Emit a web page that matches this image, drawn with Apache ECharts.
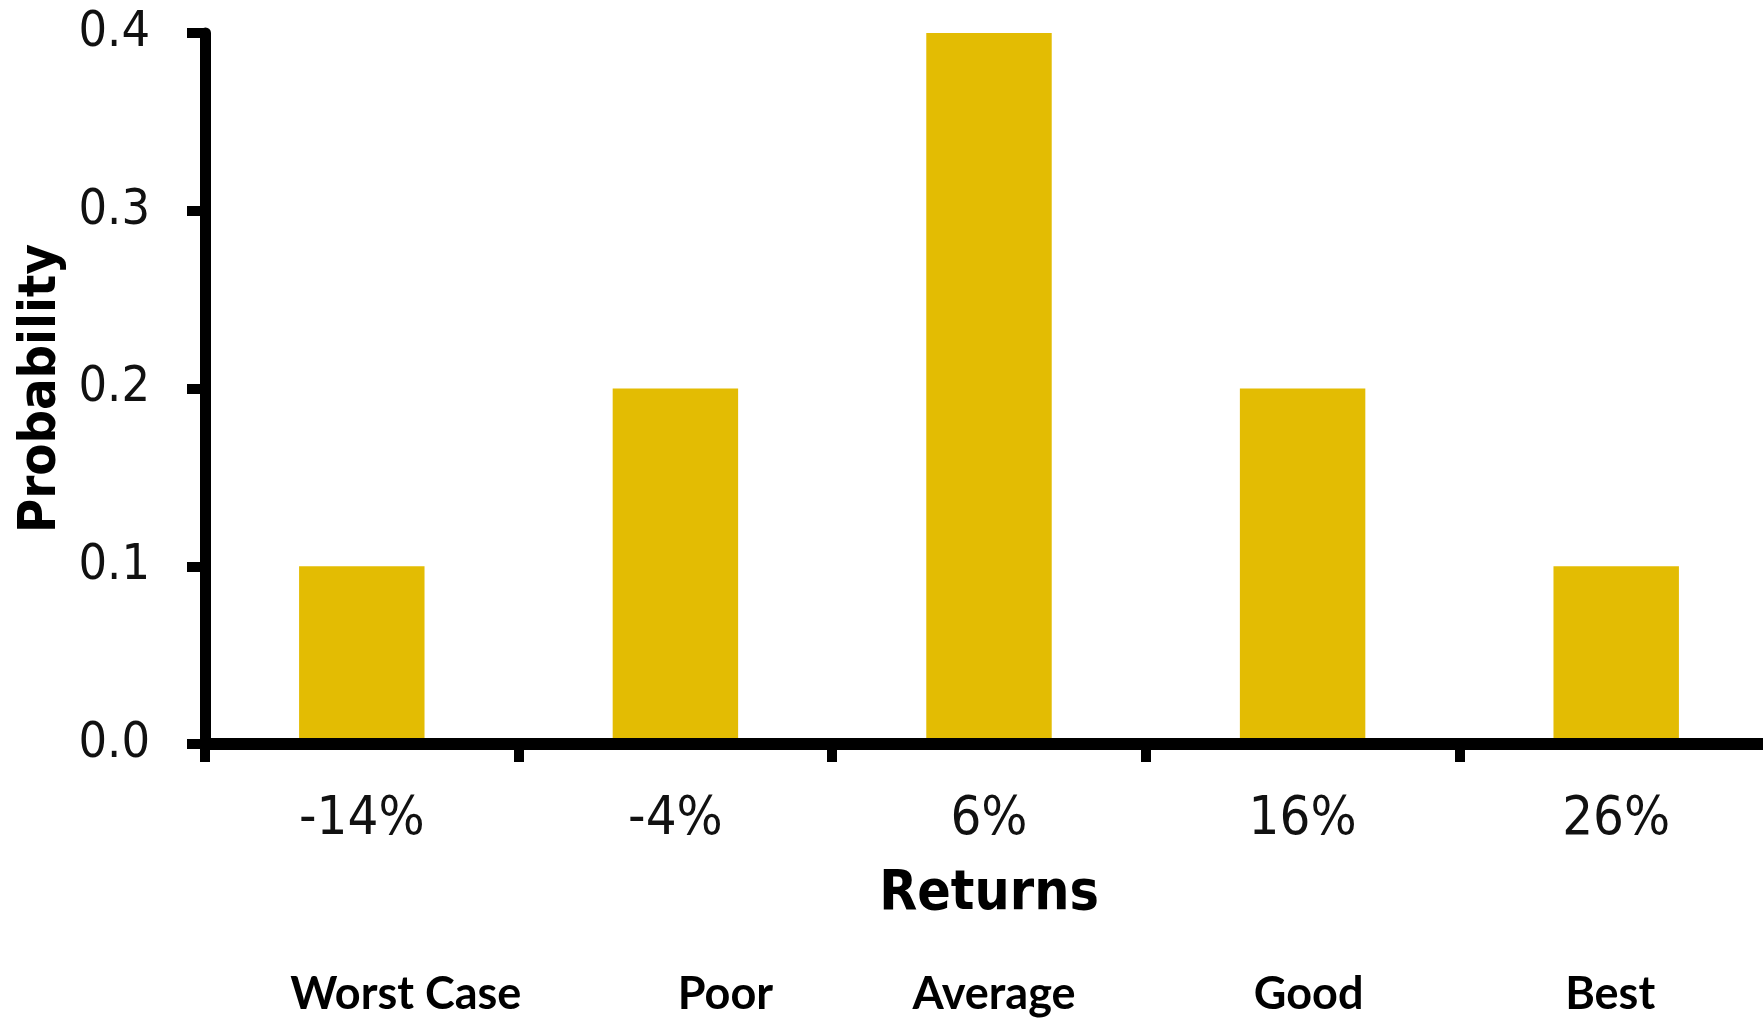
<!DOCTYPE html>
<html>
<head>
<meta charset="utf-8">
<title>Probability of Returns</title>
<script src="https://cdn.jsdelivr.net/npm/echarts@6/dist/echarts.min.js"></script>
<style>
  html, body { margin: 0; padding: 0; background: #ffffff; }
  #chart { width: 1763px; height: 1018px; }
</style>
</head>
<body>
<div id="chart"></div>
<script>
// Return outcomes and their probabilities
const returns = ['-14%', '-4%', '6%', '16%', '26%'];
const scenarios = ['Worst Case', 'Poor', 'Average', 'Good', 'Best'];
const probability = [0.1, 0.2, 0.4, 0.2, 0.1];
const yTicks = { min: 0, max: 0.4, step: 0.1 };

// Horizontal nudge (px) for the scenario captions under each outcome
const scenarioNudge = [44, 50, 5, 6, -6];

const tickFont = "'DejaVu Sans Condensed', 'DejaVu Sans', sans-serif";
const titleFont = "'DejaVu Sans Condensed', 'DejaVu Sans', sans-serif";
const captionFont = "Lato, 'Open Sans', sans-serif";

const scenarioData = scenarios.map((name, i) => {
  const d = scenarioNudge[i];
  return {
    value: name,
    textStyle: { padding: d >= 0 ? [0, 0, 0, 2 * d] : [0, -2 * d, 0, 0] }
  };
});

const chart = echarts.init(document.getElementById('chart'), null, { renderer: 'canvas' });

chart.setOption({
  backgroundColor: '#ffffff',
  animation: false,
  // the axis runs on past the right edge of the page
  grid: {
    left: 205, right: -10, top: 33, bottom: 274,
    containLabel: false, outerBoundsMode: 'none'
  },
  xAxis: [
    {
      type: 'category',
      data: returns,
      z: 5,
      boundaryGap: true,
      name: 'Returns',
      nameLocation: 'middle',
      nameGap: 123,
      nameTextStyle: { fontFamily: titleFont, fontWeight: 'bold', fontSize: 55, color: '#000' },
      axisLine: { show: true, onZero: false, lineStyle: { color: '#000', width: 12 } },
      axisTick: { show: true, inside: false, length: 18, lineStyle: { color: '#000', width: 10 } },
      axisLabel: { fontFamily: tickFont, fontSize: 54, color: '#111', margin: 49 },
      splitLine: { show: false }
    },
    {
      type: 'category',
      data: scenarioData,
      position: 'bottom',
      gridIndex: 0,
      axisLine: { show: false },
      axisTick: { show: false },
      axisLabel: { fontFamily: captionFont, fontWeight: 'bold', fontSize: 45, color: '#000', margin: 228 },
      splitLine: { show: false }
    }
  ],
  yAxis: {
    type: 'value',
    min: yTicks.min,
    max: yTicks.max,
    interval: yTicks.step,
    name: 'Probability',
    nameLocation: 'middle',
    nameGap: 136,
    nameTextStyle: { fontFamily: titleFont, fontWeight: 'bold', fontSize: 52, color: '#000' },
    axisLine: { show: true, lineStyle: { color: '#000', width: 11 } },
    axisTick: { show: true, length: 18, lineStyle: { color: '#000', width: 10 } },
    axisLabel: {
      fontFamily: tickFont, fontSize: 50, color: '#111', margin: 55,
      formatter: v => v.toFixed(1)
    },
    splitLine: { show: false }
  },
  series: [
    {
      type: 'bar',
      xAxisIndex: 0,
      data: probability,
      barWidth: '40%',
      itemStyle: { color: '#E3BC03' }
    }
  ]
});
</script>
</body>
</html>
